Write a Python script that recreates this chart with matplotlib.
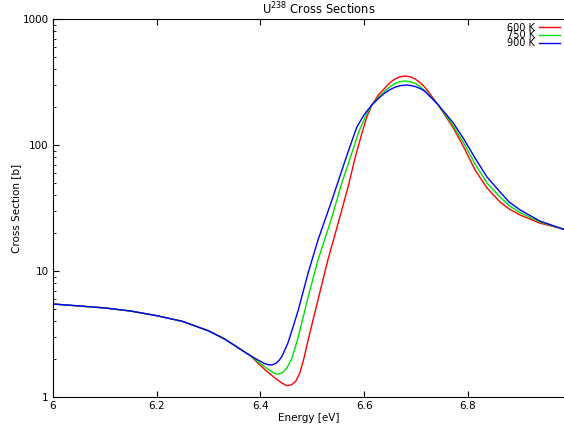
import matplotlib.pyplot as plt
from matplotlib.ticker import FixedLocator, LogLocator, NullFormatter

# energies [eV] shared below the resonance (all three temperatures coincide)
e_common = [6.00, 6.05, 6.10, 6.15, 6.20, 6.25, 6.30, 6.33, 6.35, 6.37, 6.38]
xs_common = [5.47, 5.28, 5.09, 4.81, 4.42, 3.98, 3.35, 2.90, 2.57, 2.27, 2.14]

e_600 = [6.390, 6.400, 6.410, 6.424, 6.440, 6.451, 6.460, 6.468, 6.476, 6.484,
         6.492, 6.511, 6.530, 6.550, 6.569, 6.584, 6.596, 6.605, 6.615, 6.628,
         6.640, 6.649, 6.659, 6.669, 6.679, 6.689, 6.699, 6.709, 6.717, 6.730,
         6.743, 6.772, 6.791, 6.814, 6.837, 6.862, 6.880, 6.901, 6.939, 6.984]
xs_600 = [1.95, 1.78, 1.63, 1.46, 1.30, 1.23, 1.25, 1.33, 1.55, 2.03,
          2.83, 5.89, 12.2, 24.0, 46.4, 83.3, 125, 166, 208, 251,
          283, 310, 333, 348, 353, 348, 333, 310, 288, 245,
          208, 136.4, 98.2, 63.3, 45.6, 35.3, 31.0, 27.8, 24.0, 21.5]

e_750 = [6.390, 6.400, 6.410, 6.419, 6.426, 6.432, 6.438, 6.444, 6.451, 6.461,
         6.473, 6.492, 6.511, 6.538, 6.557, 6.577, 6.590, 6.603, 6.615, 6.628,
         6.640, 6.649, 6.659, 6.669, 6.679, 6.689, 6.699, 6.709, 6.717, 6.730,
         6.743, 6.772, 6.791, 6.814, 6.837, 6.862, 6.880, 6.901, 6.939, 6.984]
xs_750 = [1.98, 1.84, 1.72, 1.62, 1.55, 1.52, 1.53, 1.58, 1.70, 2.04,
          2.99, 6.22, 12.2, 26.8, 49.9, 88.0, 128, 170, 208, 240,
          268, 288, 307, 318, 322, 318, 307, 288, 270, 238,
          208, 141.5, 105.6, 70.7, 49.9, 38.7, 33.0, 29.0, 24.5, 21.5]

e_900 = [6.390, 6.400, 6.407, 6.415, 6.423, 6.430, 6.436, 6.442, 6.453, 6.463,
         6.473, 6.492, 6.511, 6.538, 6.567, 6.586, 6.600, 6.615, 6.628, 6.640,
         6.650, 6.660, 6.670, 6.681, 6.690, 6.700, 6.710, 6.717, 6.730, 6.743,
         6.772, 6.791, 6.814, 6.837, 6.862, 6.880, 6.901, 6.939, 6.984]
xs_900 = [2.02, 1.92, 1.85, 1.80, 1.80, 1.85, 1.95, 2.12, 2.68, 3.60,
          4.90, 9.64, 17.6, 36.6, 83.3, 139, 174, 208, 235, 259,
          275, 288, 296, 299, 296.5, 290, 278, 267, 236, 208,
          149.5, 113.6, 78.8, 55.7, 42.4, 35.2, 30.5, 24.9, 21.5]

labels = ["600 K", "750 K", "900 K"]
colors = ["#ff0000", "#00e000", "#0000ff"]

plt.rcParams["font.family"] = "DejaVu Sans"
fs = 7.5

fig = plt.figure(figsize=(5.64, 4.29), dpi=100)
ax = fig.add_axes([53 / 564, 1 - 397 / 429, 1 - 53 / 564, (397 - 19) / 429])

series = [(e_600, xs_600), (e_750, xs_750), (e_900, xs_900)]
for (e, xs), lab, c in zip(series, labels, colors):
    ax.plot(e_common + e, xs_common + xs, color=c, lw=1.0, label=lab)

ax.set_yscale("log")
ax.set_xlim(6.0, 6.9855)
ax.set_ylim(1, 1000)
ax.xaxis.set_major_locator(FixedLocator([6.0, 6.2, 6.4, 6.6, 6.8]))
ax.set_xticklabels(["6", "6.2", "6.4", "6.6", "6.8"])
ax.yaxis.set_major_locator(FixedLocator([1, 10, 100, 1000]))
ax.set_yticklabels(["1", "10", "100", "1000"])
ax.yaxis.set_minor_locator(LogLocator(base=10, subs=range(2, 10)))
ax.yaxis.set_minor_formatter(NullFormatter())
ax.tick_params(axis="both", which="both", direction="in", labelsize=fs,
               top=True, right=False, pad=3)
ax.tick_params(which="major", length=4, width=0.8)
ax.tick_params(which="minor", length=2, width=0.6)
ax.spines["right"].set_visible(False)

ax.set_xlabel("Energy [eV]", fontsize=fs, labelpad=1)
fig.text(16 / 564, 1 - 208 / 429, "Cross Section [b]", fontsize=fs,
         rotation=90, ha="center", va="center")
fig.text(319 / 564, 1 - 9 / 429, "U$^{238}$ Cross Sections", fontsize=fs + 0.8,
         ha="center", va="center")

ax.legend(loc="upper right", markerfirst=False, frameon=False, fontsize=fs - 0.5,
          labelspacing=-0.25, handlelength=2.2, handletextpad=0.4,
          borderaxespad=0.2, borderpad=0.2)

fig.savefig("out.png", dpi=100)
